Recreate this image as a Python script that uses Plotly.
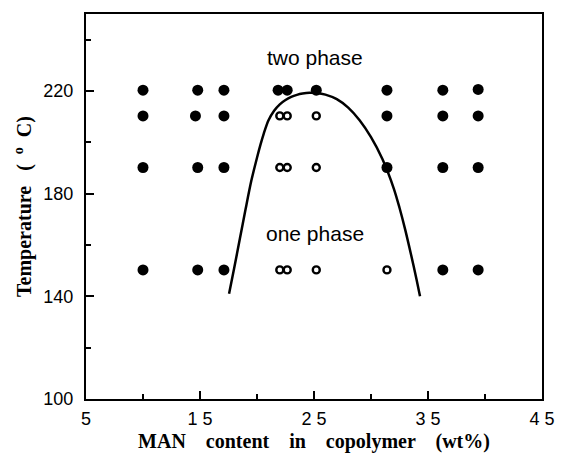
import plotly.graph_objects as go

# Data: (MAN wt%, Temperature) -- filled = two phase, open = one phase
filled_x = [10.0, 14.8, 17.1, 21.85, 22.65, 25.2, 31.4, 36.3, 39.4,
            10.0, 14.6, 17.1, 31.4, 36.3, 39.4,
            10.0, 14.8, 17.1, 31.4, 36.3, 39.4,
            10.0, 14.8, 17.1, 36.3, 39.4]
filled_y = [220.3, 220.3, 220.3, 220.3, 220.3, 220.3, 220.3, 220.3, 220.6,
            210.3, 210.3, 210.3, 210.3, 210.3, 210.3,
            190.2, 190.2, 190.2, 190.2, 190.2, 190.2,
            150.3, 150.3, 150.3, 150.3, 150.3]
open_x = [22.0, 22.65, 25.2,
          22.0, 22.65, 25.2,
          22.0, 22.65, 25.2, 31.4]
open_y = [210.3, 210.3, 210.3,
          190.2, 190.2, 190.2,
          150.3, 150.3, 150.3, 150.3]

# binodal curve
curve_x = [17.55, 18.0, 18.5, 19.0, 19.5, 20.0, 20.3, 20.6, 21.0, 21.5, 22.0, 22.5,
           23.0, 23.5, 24.0, 24.6, 25.2, 26.0, 27.0, 28.0, 29.0, 30.0, 31.0, 32.0,
           32.5, 33.0, 33.5, 34.0, 34.3]
curve_y = [141, 151, 162.5, 174, 185, 194, 199, 203.5, 208.5, 212.3, 214.8, 216.5,
           217.7, 218.5, 219.0, 219.3, 219.2, 218.6, 216.8, 213.5, 208.6, 202, 193.5, 182,
           174.5, 166, 156.5, 146.5, 140]

x_ticks = [5, 15, 25, 35, 45]
x_ticktext = ["5", "1 5", "2 5", "3 5", "4 5"]
x_minor = [10, 20, 30, 40]
y_ticks = [100, 140, 180, 220]
y_minor = [120, 160, 200, 240]

labels = ["two phase", "one phase"]
label_x = [25.1, 25.1]
label_y = [233, 164.5]

fig = go.Figure()
fig.add_trace(go.Scatter(x=curve_x, y=curve_y, mode="lines",
                         line=dict(color="black", width=2.5, shape="spline", smoothing=0.8),
                         showlegend=False, hoverinfo="skip"))
fig.add_trace(go.Scatter(x=filled_x, y=filled_y, mode="markers",
                         marker=dict(symbol="circle", size=11, color="black"),
                         showlegend=False))
fig.add_trace(go.Scatter(x=open_x, y=open_y, mode="markers",
                         marker=dict(symbol="circle-open", size=7, color="black",
                                     line=dict(width=2.4, color="black")),
                         showlegend=False))

for t, xx, yy in zip(labels, label_x, label_y):
    fig.add_annotation(x=xx, y=yy, text=t, showarrow=False,
                       font=dict(family="Liberation Sans, Arial", size=21, color="black"))

tickfont = dict(family="Liberation Sans, Arial", size=18, color="black")
titlefont = dict(family="Liberation Serif, Times New Roman", size=20, color="black")

fig.update_xaxes(range=[5, 45], tickmode="array", tickvals=x_ticks, ticktext=x_ticktext,
                 ticks="inside", ticklen=8, tickwidth=2, tickcolor="black",
                 minor=dict(tickmode="array", tickvals=x_minor, ticks="inside",
                            ticklen=5, tickwidth=2, tickcolor="black"),
                 showline=True, linecolor="black", linewidth=2, mirror=True,
                 showgrid=False, zeroline=False, tickfont=tickfont,
                 ticklabelstandoff=2,
                 title=dict(text="<b>MAN    content    in    copolymer    (wt%)</b>",
                            font=titlefont, standoff=6))
fig.update_yaxes(range=[100, 250], tickmode="array", tickvals=y_ticks,
                 ticks="inside", ticklen=8, tickwidth=2, tickcolor="black",
                 minor=dict(tickmode="array", tickvals=y_minor, ticks="inside",
                            ticklen=5, tickwidth=2, tickcolor="black"),
                 showline=True, linecolor="black", linewidth=2, mirror=True,
                 showgrid=False, zeroline=False, tickfont=tickfont,
                 ticklabelstandoff=7,
                 title=dict(text="<b>Temperature   (  <sup>o</sup>  C)</b>",
                            font=titlefont, standoff=6))

fig.update_layout(width=567, height=461, margin=dict(l=86, r=12, t=14, b=59),
                  plot_bgcolor="white", paper_bgcolor="white")

fig.write_html("out.html")
